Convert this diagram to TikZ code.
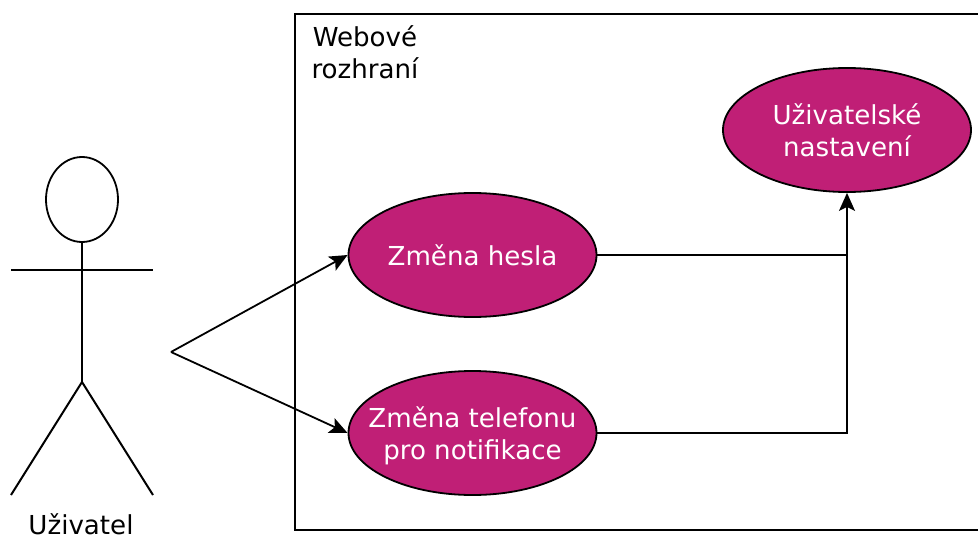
\documentclass[tikz,border=0pt]{standalone}
\usepackage{fontspec}
\setmainfont{DejaVu Sans}
\usepackage{xcolor}
\usetikzlibrary{arrows.meta, shapes.geometric}

\definecolor{usecasefill}{HTML}{C01F76}

\tikzset{
	usecase/.style = {ellipse, draw, fill = usecasefill, text = white, align = center, minimum width = 248pt, minimum height = 124pt, inner xsep = -30pt, inner ysep = -10pt},
	twoline/.style = {text height = 56pt, text depth = 4pt},
	label/.style = {align = center, text = black, inner sep = 0pt},
	stick/.style = {line width = 2pt},
	tip/.style = {-{Stealth[length = 18pt, width = 16pt, inset = 4pt]}}
}

\begin{document}
\begin{tikzpicture}[x = 1pt, y = -1pt, line width = 1.8pt, font = \fontsize{26.1}{32}\selectfont]
		\useasboundingbox (0,0) rectangle (978,538);
		\def\midx{82};

		% system boundary
		\draw (295,14) rectangle (985,530);
		\node[label] (system) at (365,52.5) {Webové\\rozhraní};

		% stick figure
		\node[ellipse, draw, inner sep = 0pt, minimum width = 72pt, minimum height = 85pt] (head) at (\midx,199.5) {};
		\coordinate (armL) at (11,270);
		\coordinate (armR) at (153,270);
		\coordinate (hip) at (\midx,382);
		\coordinate (footL) at (11,495);
		\coordinate (footR) at (153,495);
		\draw[stick] (armL) -- (armR);
		\draw[stick] (head.south) -- (hip);
		\draw[stick] (footL) -- (hip) -- (footR);
		\node[label] (actor) at (81,524) {Uživatel};

		% use cases
		\node[usecase] (password) at (472.5,255) {Změna hesla};
		\node[usecase, twoline] (phone) at (472.5,433) {Změna telefonu\\pro notifikace};
		\node[usecase, twoline] (settings) at (847,130) {Uživatelské\\nastavení};

		\coordinate (start) at (171,352);
		\draw[tip] (start) -- (password.west);
		\draw[tip] (start) -- (phone.west);

		\draw (password.east) -- (password.east -| settings.south);
		\draw[tip] (phone.east) -| (settings.south);
	\end{tikzpicture}
\end{document}
